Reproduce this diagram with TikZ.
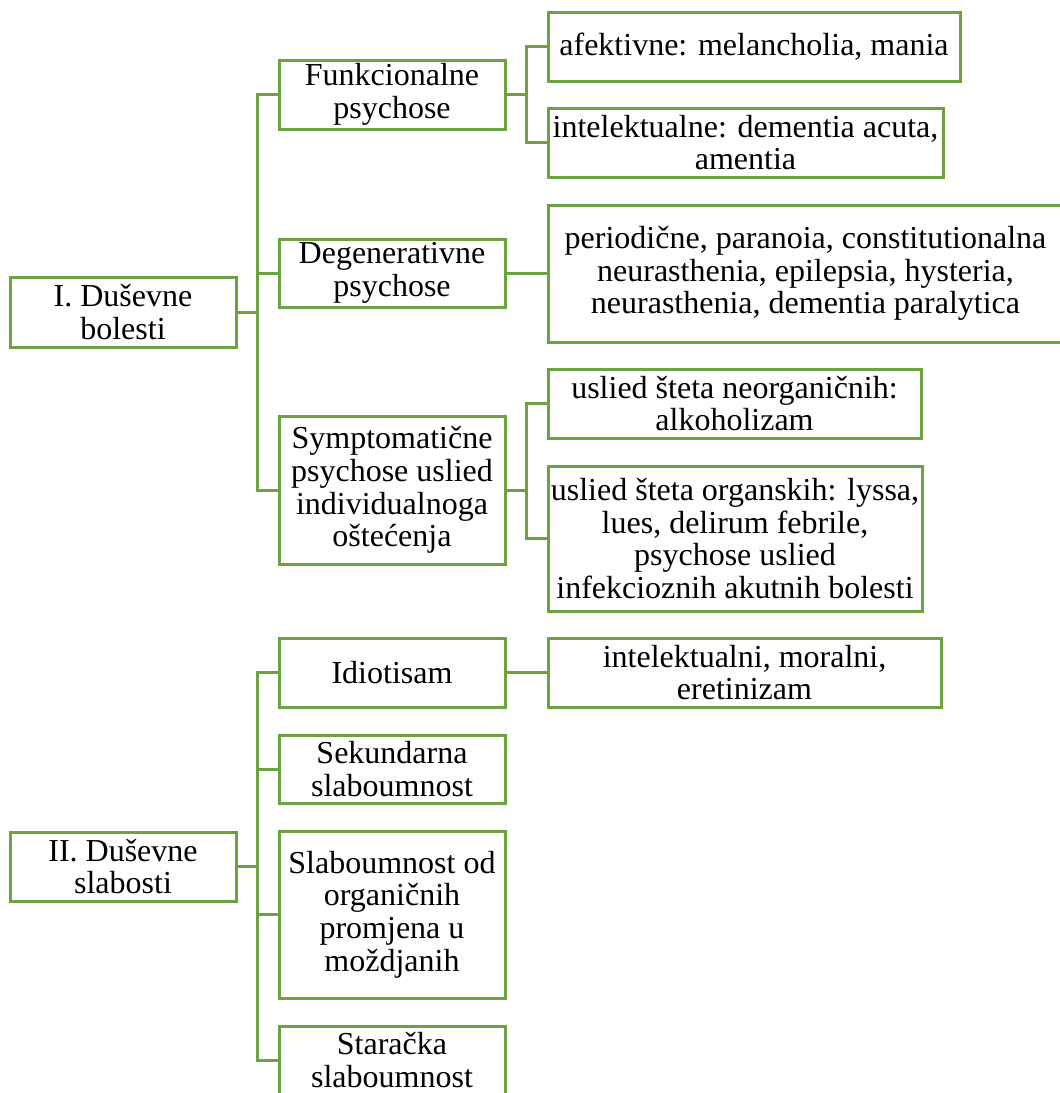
\documentclass[tikz,border=0pt]{standalone}
\usepackage{fontspec}
\setmainfont{Liberation Serif}
\definecolor{grn}{RGB}{108,162,64}
\begin{document}
\begin{tikzpicture}[x=0.75pt,y=-0.75pt,
  box/.style={draw=grn, line width=2.25pt, align=center, inner sep=0pt,
    font=\fontsize{24}{24.5}\selectfont, text=black},
  link/.style={draw=grn, line width=2.25pt}]
\useasboundingbox (0,0) rectangle (1060,1093);

% level 1
\node[box, minimum width=169.5pt, minimum height=52.5pt] (I) at (123,312) {I. Duševne\\bolesti};
\node[box, minimum width=169.5pt, minimum height=51.75pt] (II) at (123,866.5) {II. Duševne\\slabosti};

% level 2
\node[box, minimum width=169.5pt, minimum height=51.75pt] (F) at (392,94.5) {Funkcionalne\\psychose};
\node[box, minimum width=169.5pt, minimum height=51pt] (D) at (392,273) {Degenerativne\\psychose};
\node[box, minimum width=169.5pt, minimum height=111pt] (S) at (392,490) {Symptomatične\\psychose uslied\\individualnoga\\oštećenja};
\node[box, minimum width=169.5pt, minimum height=51.75pt] (Id) at (392,672.5) {Idiotisam};
\node[box, minimum width=169.5pt, minimum height=51pt] (Sek) at (392,769) {Sekundarna\\slaboumnost};
\node[box, minimum width=169.5pt, minimum height=125.25pt] (Sl) at (392,914.5) {Slaboumnost od\\organičnih\\promjena u\\moždjanih};
\node[box, minimum width=169.5pt, minimum height=51pt] (St) at (392,1060) {Staračka\\slaboumnost};

% level 3
\node[box, minimum width=309pt, minimum height=51.75pt] (af) at (754,46.5) {afektivne: melancholia, mania};
\node[box, minimum width=296.25pt, minimum height=51.75pt] (int) at (745.5,142.5) {intelektualne: dementia acuta,\\amentia};
\node[box, minimum width=386.25pt, minimum height=102.75pt] (per) at (805.5,273.5) {periodične, paranoia, constitutionalna\\neurasthenia, epilepsia, hysteria,\\neurasthenia, dementia paralytica};
\node[box, minimum width=279.75pt, minimum height=51.75pt] (neo) at (734.5,403.5) {uslied šteta neorganičnih:\\alkoholizam};
\node[box, minimum width=280.5pt, minimum height=108.75pt] (org) at (735,538.5) {uslied šteta organskih: lyssa,\\lues, delirum febrile,\\psychose uslied\\infekcioznih akutnih bolesti};
\node[box, minimum width=294.75pt, minimum height=51.75pt] (mor) at (744.5,672.5) {intelektualni, moralni,\\eretinizam};

% junctions
\coordinate (tI) at (257,312);
\coordinate (tII) at (257,866.5);
\coordinate (jF) at (526,94.5);
\coordinate (jS) at (526,490);

% connectors
\draw[link] (I.east) -- (tI);
\draw[link] (tI) |- (F.west);
\draw[link] (tI) |- (D.west);
\draw[link] (tI) |- (S.west);

\draw[link] (II.east) -- (tII);
\draw[link] (tII) |- (Id.west);
\draw[link] (tII) |- (Sek.west);
\draw[link] (tII) |- (Sl.west);
\draw[link] (tII) |- (St.west);

\draw[link] (F.east) -- (jF);
\draw[link] (jF) |- (af.west);
\draw[link] (jF) |- (int.west);

\draw[link] (D.east) -- (D.east -| per.west);

\draw[link] (S.east) -- (jS);
\draw[link] (jS) |- (neo.west);
\draw[link] (jS) |- (org.west);

\draw[link] (Id.east) -- (mor.west);
\end{tikzpicture}
\end{document}
